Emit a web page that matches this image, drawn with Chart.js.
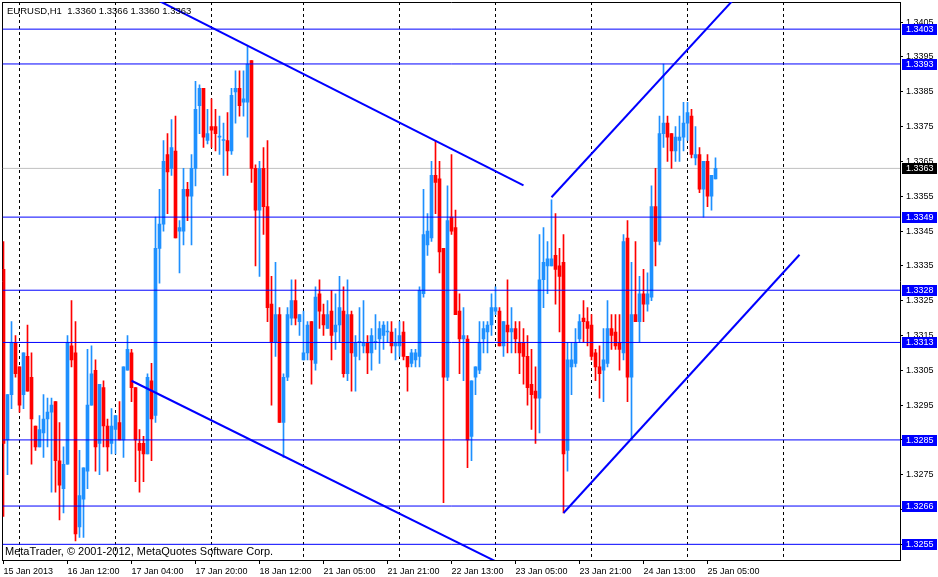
<!DOCTYPE html>
<html>
<head>
<meta charset="utf-8">
<title>EURUSD,H1</title>
<script src="https://cdn.jsdelivr.net/npm/chart.js@4.4.1/dist/chart.umd.min.js"></script>
<style>
  html, body { margin: 0; padding: 0; background: #ffffff; }
  #wrap { width: 938px; height: 577px; position: relative; }
</style>
</head>
<body>
<div id="wrap"><canvas id="chart"></canvas></div>
<script>
// --- H1 bars, index 0 = 15 Jan 2013 20:00 ---
const opens = [
  1.3334,1.3285,1.3298,1.3313,1.3306,1.3298,1.3309,1.3303,1.3289,1.3283,
  1.3287,1.3291,1.3293,1.3296,1.3279,1.3271,1.3278,1.3312,1.3310,1.3260,
  1.3268,1.3276,1.3295,1.3305,1.3284,1.3300,1.3289,1.3284,1.3288,1.3290,
  1.3285,1.3305,1.3310,1.3300,1.3284,1.3284,1.3281,1.3302,1.3292,1.3340,
  1.3347,1.3367,1.3363,1.3368,1.3345,1.3345,1.3357,1.3355,1.3363,1.3381,
  1.3386,1.3371,1.3375,1.3375,1.3372,1.3371,1.3371,1.3368,1.3385,1.3386,
  1.3382,1.3382,1.3394,1.3363,1.3351,1.3363,1.3352,1.3324,1.3313,1.3321,
  1.3290,1.3303,1.3320,1.3325,1.3319,1.3308,1.3310,1.3319,1.3307,1.3327,
  1.3321,1.3317,1.3322,1.3316,1.3318,1.3322,1.3304,1.3321,1.3309,1.3313,
  1.3312,1.3313,1.3310,1.3313,1.3314,1.3315,1.3316,1.3316,1.3312,1.3312,
  1.3316,1.3309,1.3307,1.3308,1.3309,1.3327,1.3341,1.3343,1.3361,1.3360,
  1.3340,1.3303,1.3349,1.3346,1.3322,1.3314,1.3314,1.3286,1.3303,1.3305,
  1.3314,1.3316,1.3318,1.3322,1.3322,1.3312,1.3318,1.3316,1.3317,1.3313,
  1.3313,1.3309,1.3301,1.3299,1.3297,1.3331,1.3335,1.3335,1.3338,1.3335,
  1.3336,1.3282,1.3306,1.3307,1.3314,1.3320,1.3319,1.3318,1.3310,1.3306,
  1.3305,1.3307,1.3317,1.3316,1.3313,1.3310,1.3343,1.3303,1.3321,1.3319,
  1.3327,1.3324,1.3326,1.3352,1.3342,1.3373,1.3376,1.3373,1.3368,1.3371,
  1.3372,1.3376,1.3378,1.3366,1.3367,1.3357,1.3365,1.3355,1.3360
];
const highs = [
  1.3342,1.3298,1.3319,1.3315,1.3306,1.3310,1.3318,1.3310,1.3289,1.3292,
  1.3298,1.3297,1.3297,1.3296,1.3290,1.3283,1.3315,1.3325,1.3319,1.3282,
  1.3277,1.3311,1.3312,1.3308,1.3301,1.3302,1.3291,1.3294,1.3292,1.3296,
  1.3306,1.3315,1.3311,1.3300,1.3288,1.3286,1.3304,1.3307,1.3349,1.3357,
  1.3371,1.3373,1.3377,1.3378,1.3348,1.3363,1.3359,1.3367,1.3388,1.3387,
  1.3386,1.3380,1.3383,1.3380,1.3378,1.3376,1.3379,1.3386,1.3391,1.3391,
  1.3391,1.3398,1.3394,1.3364,1.3365,1.3369,1.3371,1.3332,1.3336,1.3323,
  1.3304,1.3323,1.3331,1.3331,1.3321,1.3322,1.3319,1.3319,1.3329,1.3331,
  1.3324,1.3325,1.3328,1.3327,1.3332,1.3329,1.3331,1.3322,1.3315,1.3323,
  1.3325,1.3315,1.3317,1.3321,1.3319,1.3319,1.3319,1.3319,1.3317,1.3319,
  1.3319,1.3309,1.3311,1.3311,1.3329,1.3357,1.3350,1.3365,1.3371,1.3365,
  1.3340,1.3358,1.3367,1.3351,1.3327,1.3323,1.3315,1.3302,1.3306,1.3319,
  1.3319,1.3319,1.3327,1.3329,1.3323,1.3319,1.3331,1.3323,1.3319,1.3319,
  1.3317,1.3315,1.3311,1.3306,1.3344,1.3346,1.3342,1.3354,1.3350,1.3340,
  1.3344,1.3313,1.3313,1.3317,1.3321,1.3325,1.3323,1.3321,1.3311,1.3312,
  1.3317,1.3325,1.3321,1.3321,1.3321,1.3344,1.3348,1.3336,1.3342,1.3332,
  1.3334,1.3333,1.3358,1.3363,1.3378,1.3393,1.3378,1.3373,1.3375,1.3378,
  1.3382,1.3382,1.3380,1.3375,1.3369,1.3365,1.3367,1.3361,1.3366
];
const lows = [
  1.3263,1.3275,1.3294,1.3303,1.3293,1.3294,1.3299,1.3278,1.3282,1.3283,
  1.3280,1.3283,1.3270,1.3270,1.3262,1.3264,1.3278,1.3306,1.3256,1.3257,
  1.3257,1.3271,1.3295,1.3276,1.3275,1.3283,1.3276,1.3281,1.3281,1.3285,
  1.3280,1.3305,1.3296,1.3273,1.3270,1.3273,1.3281,1.3279,1.3290,1.3330,
  1.3345,1.3350,1.3361,1.3343,1.3333,1.3341,1.3348,1.3341,1.3358,1.3373,
  1.3369,1.3370,1.3369,1.3368,1.3367,1.3361,1.3361,1.3367,1.3376,1.3378,
  1.3378,1.3372,1.3359,1.3335,1.3332,1.3344,1.3319,1.3295,1.3309,1.3290,
  1.3280,1.3302,1.3318,1.3318,1.3315,1.3308,1.3308,1.3301,1.3305,1.3317,
  1.3315,1.3317,1.3308,1.3311,1.3313,1.3303,1.3302,1.3299,1.3299,1.3308,
  1.3310,1.3304,1.3305,1.3311,1.3307,1.3311,1.3313,1.3310,1.3308,1.3309,
  1.3308,1.3299,1.3306,1.3306,1.3306,1.3326,1.3338,1.3342,1.3350,1.3333,
  1.3267,1.3302,1.3344,1.3321,1.3304,1.3302,1.3277,1.3279,1.3298,1.3304,
  1.3310,1.3310,1.3315,1.3321,1.3312,1.3309,1.3310,1.3310,1.3310,1.3304,
  1.3301,1.3295,1.3288,1.3284,1.3287,1.3323,1.3327,1.3335,1.3324,1.3316,
  1.3264,1.3276,1.3298,1.3306,1.3313,1.3313,1.3312,1.3308,1.3302,1.3297,
  1.3296,1.3306,1.3311,1.3311,1.3305,1.3308,1.3296,1.3285,1.3319,1.3313,
  1.3319,1.3322,1.3325,1.3335,1.3341,1.3369,1.3365,1.3363,1.3365,1.3365,
  1.3368,1.3371,1.3366,1.3364,1.3356,1.3349,1.3352,1.3351,1.3360
];
const closes = [
  1.3284,1.3298,1.3313,1.3304,1.3295,1.3310,1.3299,1.3291,1.3283,1.3288,
  1.3291,1.3293,1.3295,1.3279,1.3272,1.3278,1.3313,1.3308,1.3258,1.3269,
  1.3277,1.3295,1.3304,1.3283,1.3301,1.3289,1.3283,1.3289,1.3292,1.3285,
  1.3306,1.3311,1.3300,1.3285,1.3282,1.3281,1.3303,1.3291,1.3340,1.3347,
  1.3365,1.3362,1.3369,1.3343,1.3346,1.3357,1.3355,1.3363,1.3380,1.3386,
  1.3372,1.3373,1.3374,1.3373,1.3372,1.3371,1.3368,1.3384,1.3386,1.3381,
  1.3383,1.3393,1.3363,1.3351,1.3363,1.3352,1.3323,1.3313,1.3321,1.3290,
  1.3303,1.3321,1.3325,1.3320,1.3321,1.3310,1.3318,1.3308,1.3326,1.3322,
  1.3318,1.3321,1.3315,1.3318,1.3323,1.3304,1.3321,1.3310,1.3313,1.3313,
  1.3313,1.3310,1.3315,1.3313,1.3317,1.3318,1.3316,1.3312,1.3313,1.3315,
  1.3309,1.3306,1.3310,1.3310,1.3328,1.3344,1.3345,1.3361,1.3359,1.3339,
  1.3303,1.3348,1.3345,1.3321,1.3314,1.3315,1.3285,1.3302,1.3306,1.3313,
  1.3317,1.3318,1.3323,1.3323,1.3312,1.3319,1.3316,1.3317,1.3314,1.3310,
  1.3309,1.3300,1.3298,1.3297,1.3331,1.3336,1.3337,1.3337,1.3334,1.3332,
  1.3281,1.3308,1.3308,1.3313,1.3319,1.3319,1.3317,1.3309,1.3306,1.3304,
  1.3308,1.3317,1.3315,1.3312,1.3311,1.3342,1.3303,1.3321,1.3319,1.3327,
  1.3324,1.3327,1.3352,1.3342,1.3373,1.3376,1.3372,1.3368,1.3372,1.3372,
  1.3376,1.3379,1.3367,1.3367,1.3357,1.3365,1.3355,1.3361,1.3363
];

// Time axis: label every 16 bars, dotted grid at each day start
const timeTickIdx = [0, 16, 32, 48, 64, 80, 96, 112, 128, 144, 160, 176];
const timeTickLabels = ['15 Jan 2013', '16 Jan 12:00', '17 Jan 04:00', '17 Jan 20:00', '18 Jan 12:00',
  '21 Jan 05:00', '21 Jan 21:00', '22 Jan 13:00', '23 Jan 05:00', '23 Jan 21:00', '24 Jan 13:00', '25 Jan 05:00'];
const dayStartIdx = [4, 28, 52, 75, 99, 123, 147, 171, 195];

// Price axis
const priceTicks = [1.3405, 1.3395, 1.3385, 1.3375, 1.3365, 1.3355, 1.3345, 1.3335,
  1.3325, 1.3315, 1.3305, 1.3295, 1.3285, 1.3275, 1.3265, 1.3255];
const priceMin = 1.32505;
const priceMax = 1.34108;

// Horizontal levels drawn on the chart + current bid
const levels = [1.3403, 1.3393, 1.3349, 1.3328, 1.3313, 1.3285, 1.3266, 1.3255];
const bidPrice = 1.3363;

// Trend lines: [barIndex, price] pairs
const trendLines = [
  [[36, 1.34128], [130, 1.33581]],
  [[32, 1.3302], [125, 1.3249]],
  [[137, 1.33547], [185, 1.34146]],
  [[140, 1.3264], [199, 1.33382]]
];

const xMin = -0.25;
const xMax = 224.125;

const UP = '#1E90FF';
const DOWN = '#FF0000';
const LEVEL = '#0000FF';
const SANS = '"Liberation Sans", Arial, sans-serif';

const symbolTitle = 'EURUSD,H1  ' + [opens, highs, lows, closes]
  .map(a => a[a.length - 1].toFixed(4)).join(' ');
const copyright = 'MetaTrader, \u00A9 2001-2012, MetaQuotes Software Corp.';

const barColor = ctx => {
  const i = ctx.dataIndex;
  return closes[i] >= opens[i] ? UP : DOWN;
};

const idx = opens.map((_, i) => i);

const datasets = [];

// garis level horizontal
levels.forEach(p => {
  datasets.push({
    type: 'line', data: [{ x: xMin, y: p }, { x: xMax, y: p }],
    borderColor: LEVEL, borderWidth: 1, pointRadius: 0, order: 2
  });
});
datasets.push({
  type: 'line', data: [{ x: xMin, y: bidPrice }, { x: xMax, y: bidPrice }],
  borderColor: '#C0C0C0', borderWidth: 1, pointRadius: 0, order: 5
});

trendLines.forEach(t => {
  datasets.push({
    type: 'line', data: t.map(p => ({ x: p[0], y: p[1] })),
    borderColor: LEVEL, borderWidth: 2, pointRadius: 0, order: 1
  });
});

// candles: wick + body
datasets.push({
  type: 'bar', data: idx.map(i => ({ x: i, y: [lows[i], highs[i]] })),
  backgroundColor: barColor, borderWidth: 0, barThickness: 1, minBarLength: 1,
  grouped: false, order: 4
});
datasets.push({
  type: 'bar', data: idx.map(i => ({ x: i, y: [opens[i], closes[i]] })),
  backgroundColor: barColor, borderWidth: 0, barThickness: 3, minBarLength: 1,
  grouped: false, order: 3
});

const overlay = {
  id: 'overlay',
  afterDraw(chart) {
    const ctx = chart.ctx;
    const yScale = chart.scales.y;
    const area = chart.chartArea;
    ctx.save();
    ctx.textAlign = 'left';
    ctx.textBaseline = 'middle';
    ctx.fillStyle = '#000';
    ctx.font = '9.5px ' + SANS;
    ctx.fillText(symbolTitle, 7, 11);
    ctx.font = '11px ' + SANS;
    ctx.fillText(copyright, 5, 552);

    const priceBox = (price, bg) => {
      const py = Math.round(yScale.getPixelForValue(price));
      ctx.fillStyle = bg;
      ctx.fillRect(area.right + 2, py - 5, 35, 11);
      ctx.fillStyle = '#fff';
      ctx.font = '9px ' + SANS;
      ctx.fillText(price.toFixed(4), area.right + 6, py + 1);
    };
    levels.forEach(p => priceBox(p, LEVEL));
    priceBox(bidPrice, '#000');
    ctx.restore();
  }
};

const tickFont = { family: SANS, size: 9 };
const noPad = s => { s.paddingTop = 0; s.paddingBottom = 0; s.paddingLeft = 0; s.paddingRight = 0; };

new Chart(document.getElementById('chart'), {
  type: 'bar',
  data: { datasets },
  options: {
    responsive: true,
    maintainAspectRatio: false,
    animation: false,
    layout: { padding: { left: 0, top: 2, right: 0, bottom: 0 } },
    plugins: { legend: { display: false }, tooltip: { enabled: false } },
    scales: {
      x: {
        type: 'linear', position: 'bottom', min: xMin, max: xMax, offset: false,
        afterBuildTicks: s => { s.ticks = timeTickIdx.map(v => ({ value: v })); },
        afterFit: s => { s.height = 17; noPad(s); },
        ticks: {
          autoSkip: false, maxRotation: 0, align: 'start', padding: 2,
          color: '#000', font: tickFont,
          callback: v => timeTickLabels[timeTickIdx.indexOf(v)]
        },
        grid: { drawOnChartArea: false, tickLength: 4, color: '#000', offset: false },
        border: { color: '#000' }
      },
      xg: {
        type: 'linear', position: 'bottom', min: xMin, max: xMax, offset: false,
        afterBuildTicks: s => { s.ticks = dayStartIdx.map(v => ({ value: v })); },
        afterFit: s => { s.height = 0; noPad(s); },
        ticks: { display: false },
        grid: { drawTicks: false, color: '#000', offset: false },
        border: { display: false, dash: [3, 3] }
      },
      xt: {
        type: 'linear', position: 'top', min: 0, max: 1, offset: false,
        afterFit: s => { s.height = 0; noPad(s); },
        ticks: { display: false },
        grid: { display: false, drawTicks: false },
        border: { color: '#000' }
      },
      y: {
        type: 'linear', position: 'right', min: priceMin, max: priceMax, beginAtZero: false,
        afterBuildTicks: s => { s.ticks = priceTicks.map(v => ({ value: v })); },
        afterFit: s => { s.width = 38; noPad(s); },
        ticks: { color: '#000', font: tickFont, padding: 3, callback: v => v.toFixed(4) },
        grid: { drawOnChartArea: false, tickLength: 3, color: '#000' },
        border: { color: '#000' }
      },
      yl: {
        type: 'linear', position: 'left', min: 0, max: 1,
        afterFit: s => { s.width = 2.5; noPad(s); },
        ticks: { display: false },
        grid: { display: false, drawTicks: false },
        border: { color: '#000' }
      }
    }
  },
  plugins: [overlay]
});
</script>
</body>
</html>
